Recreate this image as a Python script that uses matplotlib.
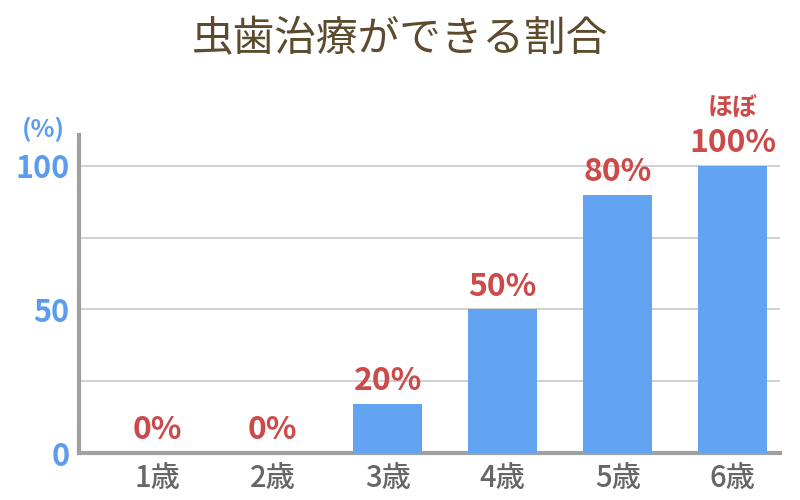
import matplotlib.pyplot as plt

plt.rcParams['font.family'] = ['Noto Sans CJK JP', 'DejaVu Sans']

ages = ['1歳', '2歳', '3歳', '4歳', '5歳', '6歳']
heights = [0, 0, 17, 50, 90, 100]
labels = ['0%', '0%', '20%', '50%', '80%', '100%']
yticks = [0, 50, 100]

bar_color = '#62a3f2'
label_color = '#cc4a4a'
tick_blue = '#5b9cf0'

fig = plt.figure(figsize=(8, 5), dpi=100)
ax = fig.add_axes([0.099, 0.094, 0.876, 0.636])

x = range(len(ages))
ax.bar(x, heights, width=0.6, color=bar_color, zorder=3)

for xi, h, lab in zip(x, heights, labels):
    ax.annotate(lab, (xi, h), xytext=(0, 5), textcoords='offset points',
                ha='center', va='bottom', fontsize=23, fontweight='bold',
                color=label_color, zorder=4)
ax.annotate('ほぼ', (5, 100), xytext=(0, 33), textcoords='offset points',
            ha='center', va='bottom', fontsize=18, fontweight='bold',
            color=label_color)

ax.set_xlim(-0.68, 5.41)
ax.set_ylim(0, 110.8)
ax.set_yticks(yticks)
ax.set_yticks([25, 75], minor=True)
ax.set_xticks(list(x))
ax.set_xticklabels(ages)
ax.tick_params(axis='y', which='both', length=0, pad=7, labelsize=22,
               labelcolor=tick_blue)
ax.tick_params(axis='x', length=0, pad=7, labelsize=21, labelcolor='#666666')
for lab in ax.get_yticklabels():
    lab.set_fontweight('bold')
for lab in ax.get_xticklabels():
    lab.set_fontweight('medium')

ax.grid(axis='y', which='both', color='#c8c8c8', lw=1.2, zorder=0)
ax.grid(axis='x', visible=False)
for side in ['top', 'right']:
    ax.spines[side].set_visible(False)
for side in ['left', 'bottom']:
    ax.spines[side].set_color('#a0a0a0')
    ax.spines[side].set_linewidth(3)

fig.text(0.054, 0.742, '(%)', ha='center', va='center', fontsize=18,
         fontweight='bold', color=tick_blue)
fig.text(0.5, 0.92, '虫歯治療ができる割合', ha='center', va='center',
         fontsize=30, color='#5c4b2c')

fig.savefig('out.png', dpi=100, facecolor='white')
